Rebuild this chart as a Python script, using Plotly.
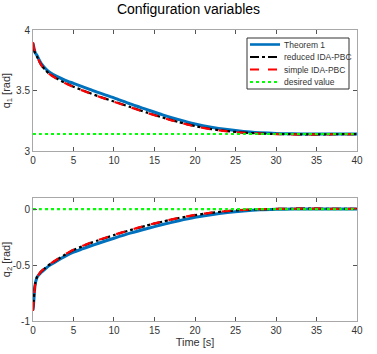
import plotly.graph_objects as go
from plotly.subplots import make_subplots

# time samples [s]
t = [0, 0.1, 0.2, 0.3, 0.5, 0.75, 1, 1.5, 2, 3, 4, 5, 6, 7, 8, 10, 12, 14, 16, 18,
     20, 22, 24, 26, 28, 30, 32, 34, 36, 38, 40]

# q1 [rad]
q1_thm = [3.89, 3.86, 3.83, 3.81, 3.79, 3.755, 3.725, 3.685, 3.655, 3.615, 3.585, 3.56,
          3.535, 3.51, 3.485, 3.44, 3.39, 3.345, 3.30, 3.26, 3.225, 3.198, 3.178, 3.163,
          3.153, 3.146, 3.143, 3.1416, 3.1416, 3.1416, 3.1416]
q1_red = [3.88, 3.85, 3.82, 3.80, 3.78, 3.745, 3.715, 3.672, 3.64, 3.597, 3.562, 3.532,
          3.506, 3.48, 3.455, 3.41, 3.365, 3.32, 3.278, 3.24, 3.207, 3.182, 3.165, 3.153,
          3.146, 3.142, 3.14, 3.139, 3.139, 3.14, 3.141]
q1_simple = [3.90, 3.86, 3.83, 3.805, 3.78, 3.745, 3.712, 3.67, 3.638, 3.595, 3.56, 3.53,
             3.504, 3.478, 3.453, 3.408, 3.363, 3.318, 3.276, 3.238, 3.205, 3.18, 3.163,
             3.152, 3.145, 3.141, 3.139, 3.138, 3.139, 3.14, 3.141]
q1_des = [3.1416] * len(t)

# q2 [rad]
q2_thm = [-0.90, -0.82, -0.72, -0.66, -0.61, -0.585, -0.565, -0.535, -0.505, -0.46, -0.42,
          -0.385, -0.358, -0.332, -0.307, -0.26, -0.215, -0.175, -0.138, -0.104, -0.074,
          -0.05, -0.031, -0.017, -0.007, -0.002, 0.0, 0.0, 0.0, 0.0, 0.0]
q2_red = [-0.89, -0.81, -0.71, -0.655, -0.605, -0.58, -0.558, -0.527, -0.497, -0.45,
          -0.405, -0.365, -0.335, -0.305, -0.28, -0.232, -0.188, -0.148, -0.112, -0.08,
          -0.054, -0.033, -0.018, -0.008, -0.002, 0.001, 0.003, 0.004, 0.003, 0.002, 0.001]
q2_simple = [-0.91, -0.82, -0.72, -0.66, -0.607, -0.58, -0.557, -0.525, -0.495, -0.448,
             -0.403, -0.363, -0.333, -0.303, -0.278, -0.23, -0.186, -0.146, -0.11, -0.078,
             -0.052, -0.031, -0.017, -0.007, -0.001, 0.002, 0.003, 0.004, 0.003, 0.002, 0.001]
q2_des = [0.0] * len(t)

names = ["Theorem 1", "reduced IDA-PBC", "simple IDA-PBC", "desired value"]
colors = ["#0072BD", "black", "red", "#00FF00"]
dashes = ["solid", "dashdot", "dash", "dot"]
widths = [3, 2.2, 2.2, 2.2]

fig = make_subplots(rows=2, cols=1)

for i, (y1, y2) in enumerate(zip([q1_thm, q1_red, q1_simple, q1_des],
                                  [q2_thm, q2_red, q2_simple, q2_des])):
    ln = dict(color=colors[i], dash=dashes[i], width=widths[i], shape="spline",
              smoothing=0.6)
    fig.add_trace(go.Scatter(x=t, y=y1, mode="lines", name=names[i], line=ln,
                             showlegend=False), row=1, col=1)
    fig.add_trace(go.Scatter(x=t, y=y2, mode="lines", name=names[i], line=ln,
                             showlegend=False), row=2, col=1)

axis_style = dict(showline=True, linecolor="#a8a8a8", linewidth=1, mirror="ticks",
                  ticks="inside", ticklen=4, tickcolor="#555", showgrid=False,
                  zeroline=False, automargin=False,
                  tickfont=dict(size=10, color="#333"))

fig.update_xaxes(range=[0, 40], dtick=5, domain=[0.0875, 0.947], **axis_style)
fig.update_xaxes(title=dict(text="Time [s]", font=dict(size=11, color="#333"), standoff=2),
                 row=2, col=1)
fig.update_yaxes(**axis_style)
fig.update_yaxes(range=[3, 4], tickvals=[3, 3.5, 4], ticktext=["3", "3.5", "4"],
                 domain=[0.573, 0.915],
                 title=dict(text="q<sub>1</sub> [rad]", font=dict(size=11, color="#333"),
                            standoff=4), row=1, col=1)
fig.update_yaxes(range=[-1, 0.1], tickvals=[-1, -0.5, 0], ticktext=["-1", "-0.5", "0"],
                 domain=[0.093, 0.441],
                 title=dict(text="q<sub>2</sub> [rad]", font=dict(size=11, color="#333"),
                            standoff=4), row=2, col=1)

# legend box drawn in the upper panel, MATLAB style
W, H = 377.0, 354.0
box = dict(x0=247 / W, x1=349 / W, y0=1 - 89 / H, y1=1 - 38 / H)
shapes = [dict(type="rect", xref="paper", yref="paper", line=dict(color="#333", width=1),
               fillcolor="white", **box)]
annotations = []
row_y = [44.5, 57, 69.5, 82]
for i, name in enumerate(names):
    yy = 1 - row_y[i] / H
    shapes.append(dict(type="line", xref="paper", yref="paper",
                       x0=250 / W, x1=280 / W, y0=yy, y1=yy,
                       line=dict(color=colors[i], dash=dashes[i], width=widths[i] - 0.4)))
    annotations.append(dict(text=name, xref="paper", yref="paper", x=282 / W, y=yy,
                            xanchor="left", yanchor="middle", showarrow=False,
                            font=dict(size=8.5, color="#333")))

fig.update_layout(
    width=377, height=354,
    margin=dict(l=0, r=0, t=0, b=0),
    paper_bgcolor="white", plot_bgcolor="white",
    font=dict(family="Liberation Sans, Arial, sans-serif"),
    title=dict(text="Configuration variables", x=0.5, xanchor="center",
               y=1 - 9 / H, yanchor="middle", automargin=False,
               font=dict(size=14, color="black")),
    shapes=shapes,
    annotations=annotations,
    showlegend=False,
)

# drop the default 8px page margin so the figure sits at the window corner
fig.write_html("out.html", config={"displayModeBar": False},
               post_script="document.body.style.margin='0px';")
